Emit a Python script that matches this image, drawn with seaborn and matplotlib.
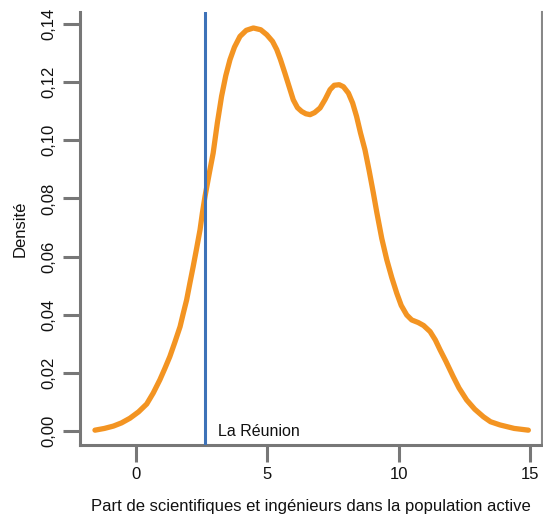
import matplotlib
matplotlib.use("Agg")
import matplotlib.pyplot as plt
import seaborn as sns
import pandas as pd

# Density curve
x_vals = [-1.56, -1.20, -0.86, -0.55, -0.23, 0.10, 0.41, 0.66, 0.91, 1.10, 1.29,
          1.48, 1.68, 1.80, 1.93, 2.05, 2.18, 2.31, 2.44, 2.53, 2.63, 2.80,
          2.94, 3.10, 3.26, 3.42, 3.58, 3.75, 3.96, 4.20, 4.47, 4.75, 4.98,
          5.20, 5.36, 5.50, 5.67, 5.83, 5.99, 6.15, 6.31, 6.47, 6.63, 6.80,
          7.01, 7.20, 7.39, 7.55, 7.74, 7.90, 8.09, 8.25, 8.40, 8.55, 8.72,
          8.88, 9.04, 9.17, 9.36, 9.55, 9.74, 9.93, 10.10, 10.31, 10.50, 10.75,
          10.95, 11.20, 11.40, 11.58, 11.80, 12.08, 12.30, 12.59, 12.90, 13.23,
          13.50, 13.86, 14.40, 14.94]
density = [0.0003, 0.0009, 0.0017, 0.0028, 0.0044, 0.0066, 0.0093, 0.0131, 0.0176,
           0.0215, 0.0256, 0.0305, 0.0359, 0.0404, 0.0451, 0.0507, 0.0566, 0.0628,
           0.0692, 0.0750, 0.0807, 0.0890, 0.0956, 0.1060, 0.1151, 0.1222, 0.1277,
           0.1320, 0.1357, 0.1378, 0.1386, 0.1380, 0.1363, 0.1340, 0.1312, 0.1278,
           0.1231, 0.1185, 0.1139, 0.1112, 0.1099, 0.1091, 0.1088, 0.1095, 0.1111,
           0.1140, 0.1174, 0.1189, 0.1191, 0.1184, 0.1162, 0.1128, 0.1082, 0.1025,
           0.0967, 0.0895, 0.0818, 0.0752, 0.0662, 0.0589, 0.0528, 0.0474, 0.0432,
           0.0399, 0.0382, 0.0373, 0.0363, 0.0342, 0.0313, 0.0279, 0.0240, 0.0187,
           0.0148, 0.0107, 0.0075, 0.0049, 0.0032, 0.0021, 0.0009, 0.0003]
reunion_value = 2.63
reunion_label = "La Réunion"
x_ticks = [0, 5, 10, 15]
y_ticks = [0.00, 0.02, 0.04, 0.06, 0.08, 0.10, 0.12, 0.14]
y_tick_labels = ["0,00", "0,02", "0,04", "0,06", "0,08", "0,10", "0,12", "0,14"]
x_label = "Part de scientifiques et ingénieurs dans la population active"
y_label = "Densité"

sns.set_style("white")
plt.rcParams["font.family"] = ["Liberation Sans", "DejaVu Sans"]

df = pd.DataFrame({"x": x_vals, "y": density})

fig = plt.figure(figsize=(5.43, 5.2), dpi=100)
ax = fig.add_axes([80 / 543, 1 - 445 / 520, (542 - 80) / 543, (445 - 12) / 520])

sns.lineplot(data=df, x="x", y="y", ax=ax, color="#F39422", linewidth=3.8,
             solid_capstyle="round", solid_joinstyle="round", sort=False, zorder=2)
ax.axvline(reunion_value, color="#3D72B8", linewidth=2.2, zorder=3)
ax.text(reunion_value + 0.48, 0.0, reunion_label, fontsize=11.5, color="#111111",
        ha="left", va="center")

ax.set_xlim(-2.13, 15.46)
ax.set_ylim(-0.0048, 0.1441)
ax.set_xticks(x_ticks)
ax.set_xticklabels([str(t) for t in x_ticks])
ax.set_yticks(y_ticks)
ax.set_yticklabels(y_tick_labels, rotation=90, va="center")

spine_col = "#777777"
for side in ["left", "bottom"]:
    ax.spines[side].set_color(spine_col)
    ax.spines[side].set_linewidth(2.2)
ax.spines["right"].set_color("#888888")
ax.spines["right"].set_linewidth(1.5)
ax.spines["top"].set_visible(False)

ax.tick_params(axis="both", bottom=True, left=True, colors=spine_col, length=12,
               width=2.2, labelcolor="#111111", labelsize=12)
ax.tick_params(axis="x", pad=4)
ax.tick_params(axis="y", pad=5)

ax.set_xlabel(x_label, fontsize=12, color="#111111", labelpad=12)
ax.set_ylabel(y_label, fontsize=12, color="#111111", labelpad=10)

fig.savefig("out.png", dpi=100)
